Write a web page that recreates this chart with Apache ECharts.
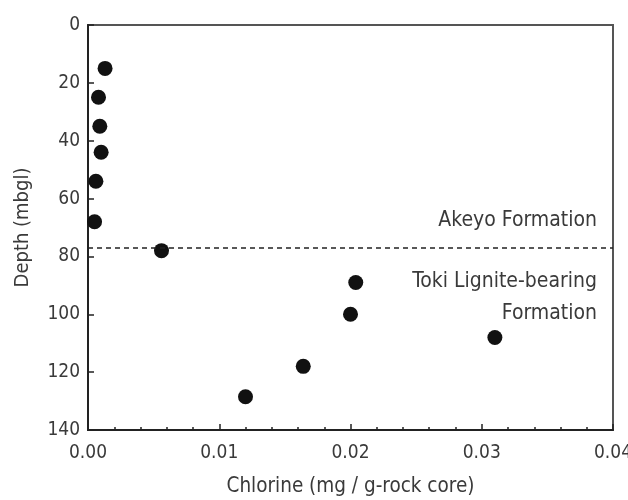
<!DOCTYPE html>
<html>
<head>
<meta charset="utf-8">
<script src="https://cdn.jsdelivr.net/npm/echarts@6/dist/echarts.min.js"></script>
<style>html,body{margin:0;padding:0;background:#fff}#c{width:628px;height:500px}</style>
</head>
<body>
<div id="c"></div>
<script>
// Chlorine content (mg / g-rock core)
const chlorine = [0.0013, 0.0008, 0.0009, 0.0010, 0.0006, 0.0005, 0.0056, 0.0204, 0.0200, 0.0310, 0.0164, 0.0120];
// Depth (mbgl)
const depth = [15, 25, 35, 44, 54, 68, 78, 89, 100, 108, 118, 128.5];
const boundaryDepth = 77;
const xTicks = [0, 0.01, 0.02, 0.03, 0.04];
const yTicks = [0, 20, 40, 60, 80, 100, 120, 140];
const xTitle = 'Chlorine (mg / g-rock core)';
const yTitle = 'Depth (mbgl)';
const upperLabel = 'Akeyo Formation';
const lowerLabel = ['Toki Lignite-bearing', 'Formation'];

const FONT = '"DejaVu Sans Condensed", "Liberation Sans Narrow", "Liberation Sans", sans-serif';
const TXT = '#3a3a3a';

const chart = echarts.init(document.getElementById('c'));
chart.setOption({
  animation: false,
  backgroundColor: '#fff',
  grid: { left: 88, right: 15, top: 25, bottom: 70, show: true, borderColor: '#555', borderWidth: 2,
          containLabel: false, outerBoundsMode: 'none' },
  xAxis: {
    type: 'value', min: xTicks[0], max: xTicks[xTicks.length - 1], interval: 0.01,
    axisLine: { onZero: false, lineStyle: { color: '#222', width: 2 } },
    axisTick: { inside: true, length: 6, lineStyle: { color: '#222', width: 1.5 } },
    minorTick: { show: true, splitNumber: 5, length: 3, lineStyle: { color: '#222', width: 1.5 } },
    splitLine: { show: false },
    axisLabel: { formatter: v => v.toFixed(2), fontFamily: FONT, fontSize: 19, color: TXT, margin: 14 },
    name: xTitle, nameLocation: 'middle', nameGap: 46,
    nameTextStyle: { fontFamily: FONT, fontSize: 20.5, color: TXT }
  },
  yAxis: {
    type: 'value', inverse: true, min: yTicks[0], max: yTicks[yTicks.length - 1], interval: 20,
    axisLine: { onZero: false, lineStyle: { color: '#222', width: 2 } },
    axisTick: { inside: true, length: 6, lineStyle: { color: '#222', width: 1.5 } },
    splitLine: { show: false },
    axisLabel: { fontFamily: FONT, fontSize: 19, color: TXT, margin: 8 },
    name: yTitle, nameLocation: 'middle', nameGap: 55,
    nameTextStyle: { fontFamily: FONT, fontSize: 20, color: TXT }
  },
  series: [{
    type: 'scatter',
    data: chlorine.map((c, i) => [c, depth[i]]),
    symbol: 'circle', symbolSize: 15,
    itemStyle: { color: '#111', opacity: 1 },
    markLine: {
      silent: true, symbol: 'none',
      lineStyle: { type: [5, 4], color: '#222', width: 1.5 },
      label: { show: false },
      data: [{ yAxis: boundaryDepth }]
    }
  }],
  graphic: [
    { type: 'text', right: 31, top: 210, style: { text: upperLabel, font: '21px ' + FONT, fill: TXT, textAlign: 'right' } },
    { type: 'text', right: 31, top: 271, style: { text: lowerLabel[0], font: '21px ' + FONT, fill: TXT, textAlign: 'right' } },
    { type: 'text', right: 31, top: 303, style: { text: lowerLabel[1], font: '21px ' + FONT, fill: TXT, textAlign: 'right' } }
  ]
});
</script>
</body>
</html>
